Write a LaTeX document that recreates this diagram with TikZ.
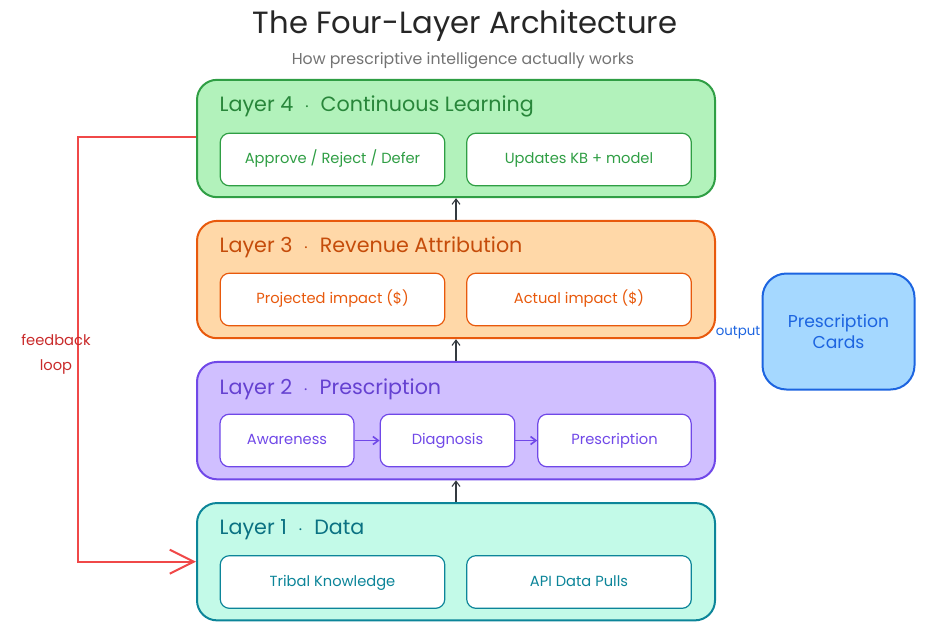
\documentclass[tikz,border=0pt]{standalone}
\usepackage{fontspec}
\setmainfont{Poppins}
\usetikzlibrary{positioning, arrows.meta, calc}

\definecolor{gfill}{HTML}{B2F2BB}\definecolor{gline}{HTML}{2F9E44}
\definecolor{ofill}{HTML}{FFD8A8}\definecolor{oline}{HTML}{E8590C}
\definecolor{pfill}{HTML}{D0BFFF}\definecolor{pline}{HTML}{7048E8}
\definecolor{tfill}{HTML}{C3FAE8}\definecolor{tline}{HTML}{0C8599}
\definecolor{bfill}{HTML}{A5D8FF}\definecolor{bline}{HTML}{1C64E0}
\definecolor{fbred}{HTML}{F04848}\definecolor{fbtext}{HTML}{C92A2A}
\definecolor{arrgray}{HTML}{343A40}

\begin{document}
\begin{tikzpicture}[x=0.75pt, y=-0.75pt,
    layer/.style={rectangle, rounded corners=15pt, draw, line width=1.5pt, minimum width=388.5pt, minimum height=88pt},
    item/.style={rectangle, rounded corners=7pt, draw, line width=0.9pt, fill=white, minimum height=39.5pt,
        text height=1.6ex, text depth=0.4ex, font=\fontsize{11}{13}\selectfont},
    ltitle/.style={anchor=west, font=\fontsize{15.5}{18}\selectfont},
    uparrow/.style={-{Straight Barb[length=4pt, width=6pt]}, arrgray, line width=0.8pt},
    flow/.style={-{Straight Barb[length=4pt, width=6pt]}, pline, line width=1.2pt}]

  \useasboundingbox (0,0) rectangle (942,643);

  % title
  \node[font=\fontsize{23}{26}\selectfont, text=black!85] (title) at (465,26) {The Four-Layer Architecture};
  \node[font=\fontsize{11.8}{14}\selectfont, text=black!55] (subtitle) at (463,61) {How prescriptive intelligence actually works};

  % layers
  \node[layer, fill=gfill, draw=gline] (l4) at (456,138.5) {};
  \node[layer, fill=ofill, draw=oline, below=16.3pt of l4] (l3) {};
  \node[layer, fill=pfill, draw=pline, below=16.3pt of l3] (l2) {};
  \node[layer, fill=tfill, draw=tline, below=16.3pt of l2] (l1) {};

  \node[ltitle, text=gline!85!black] (t4) at (215,106) {Layer 4 \ $\cdot$ \ Continuous Learning};
  \node[ltitle, text=oline!85!black] (t3) at (215,247) {Layer 3 \ $\cdot$ \ Revenue Attribution};
  \node[ltitle, text=pline!90!black] (t2) at (215,389) {Layer 2 \ $\cdot$ \ Prescription};
  \node[ltitle, text=tline!85!black] (t1) at (215,530) {Layer 1 \ $\cdot$ \ Data};

  % layer 4
  \node[item, draw=gline, text=gline, minimum width=168.5pt] (approve) at (332.5,159.5) {Approve / Reject / Defer};
  \node[item, draw=gline, text=gline, minimum width=168.5pt] (updates) at (579,159.5) {Updates KB + model};
  % layer 3
  \node[item, draw=oline, text=oline, minimum width=168.5pt] (projected) at (332.5,299.5) {Projected impact (\$)};
  \node[item, draw=oline, text=oline, minimum width=168.5pt] (actual) at (579,299.5) {Actual impact (\$)};
  % layer 2
  \node[item, draw=pline, text=pline, minimum width=100.5pt] (aware) at (287,440.5) {Awareness};
  \node[item, draw=pline, text=pline, minimum width=101pt] (diag) at (447.5,440.5) {Diagnosis};
  \node[item, draw=pline, text=pline, minimum width=115pt] (presc) at (614.5,440.5) {Prescription};
  % layer 1
  \node[item, draw=tline, text=tline, minimum width=168.5pt] (tribal) at (332.5,582) {Tribal Knowledge};
  \node[item, draw=tline, text=tline, minimum width=168.5pt] (api) at (579,582) {API Data Pulls};

  % output cards
  \node[rectangle, rounded corners=18pt, draw=bline, fill=bfill, line width=1.5pt, minimum width=114pt, minimum height=87pt,
        align=center, text=bline, font=\fontsize{12.9}{16}\selectfont] (cards) at (838.5,331.5) {Prescription\\Cards};
  \node[text=bline, font=\fontsize{10}{12}\selectfont, inner sep=1pt] (outlbl) at (738,333) {output};

  \draw[uparrow] (l3) -- (l4);
  \draw[uparrow] (l2) -- (l3);
  \draw[uparrow] (l1) -- (l2);
  \draw[flow] (aware) -- (diag);
  \draw[flow] (diag) -- (presc);

  % feedback loop
  \draw[fbred, line width=1.5pt, -{Straight Barb[length=18pt, width=18pt]}] ([yshift=1.1pt]l4.west) -- ++(-118,0) coordinate (fbtop) |- (l1.west);
  \node[text=fbtext, align=center, font=\fontsize{11}{19}\selectfont] (fblbl) at (56,354) {feedback\\loop};
\end{tikzpicture}
\end{document}
